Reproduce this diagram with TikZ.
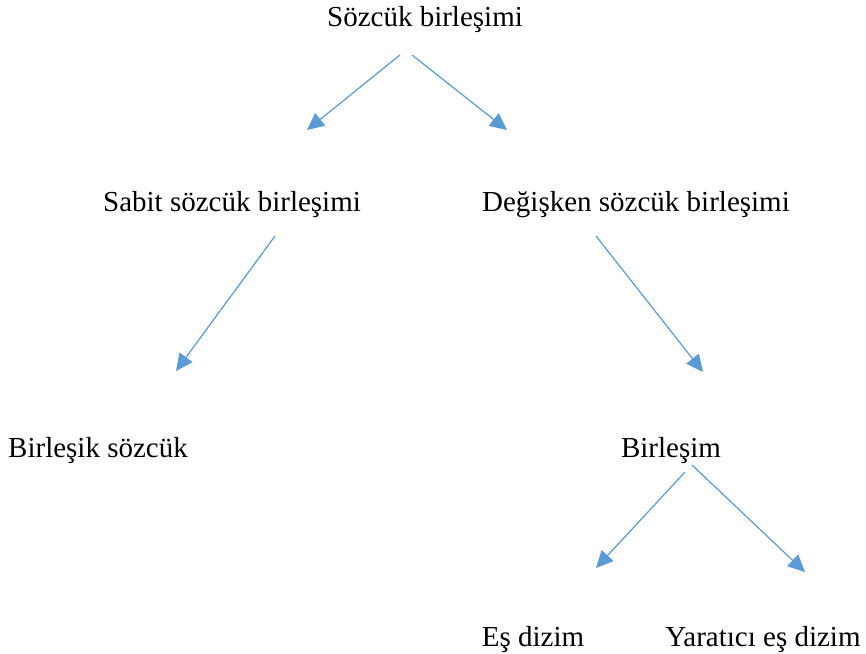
\documentclass[tikz,border=0pt]{standalone}
\usepackage{fontspec}
\setmainfont{Liberation Serif}
\usetikzlibrary{arrows.meta}
\definecolor{arrowblue}{HTML}{5B9BD5}
\begin{document}
\begin{tikzpicture}[x=1pt,y=-1pt,
  lbl/.style={anchor=base,inner sep=0pt,font=\fontsize{29}{32}\selectfont},
  conn/.style={draw=arrowblue,line width=1.2pt,-{Triangle[length=17pt,width=16pt]},fill=arrowblue}]
\useasboundingbox (0,0) rectangle (866,653);
\node[lbl] (root) at (425,26) {Sözcük birleşimi};
\node[lbl] (sabit) at (232,211) {Sabit sözcük birleşimi};
\node[lbl] (degisken) at (636,211) {Değişken sözcük birleşimi};
\node[lbl] (birlesik) at (98,457) {Birleşik sözcük};
\node[lbl] (birlesim) at (671,457) {Birleşim};
\node[lbl] (esdizim) at (533,646) {Eş dizim};
\node[lbl] (yaratici) at (763,646) {Yaratıcı eş dizim};
\coordinate (a1s) at (400,55); \coordinate (a1e) at (307,130);
\coordinate (a2s) at (412,55); \coordinate (a2e) at (507,130);
\coordinate (a3s) at (275,236); \coordinate (a3e) at (176,371);
\coordinate (a4s) at (596,236); \coordinate (a4e) at (703,372);
\coordinate (a5s) at (685,472); \coordinate (a5e) at (596,568);
\coordinate (a6s) at (692,465); \coordinate (a6e) at (805,572);
\draw[conn] (a1s) -- (a1e);
\draw[conn] (a2s) -- (a2e);
\draw[conn] (a3s) -- (a3e);
\draw[conn] (a4s) -- (a4e);
\draw[conn] (a5s) -- (a5e);
\draw[conn] (a6s) -- (a6e);
\end{tikzpicture}
\end{document}
